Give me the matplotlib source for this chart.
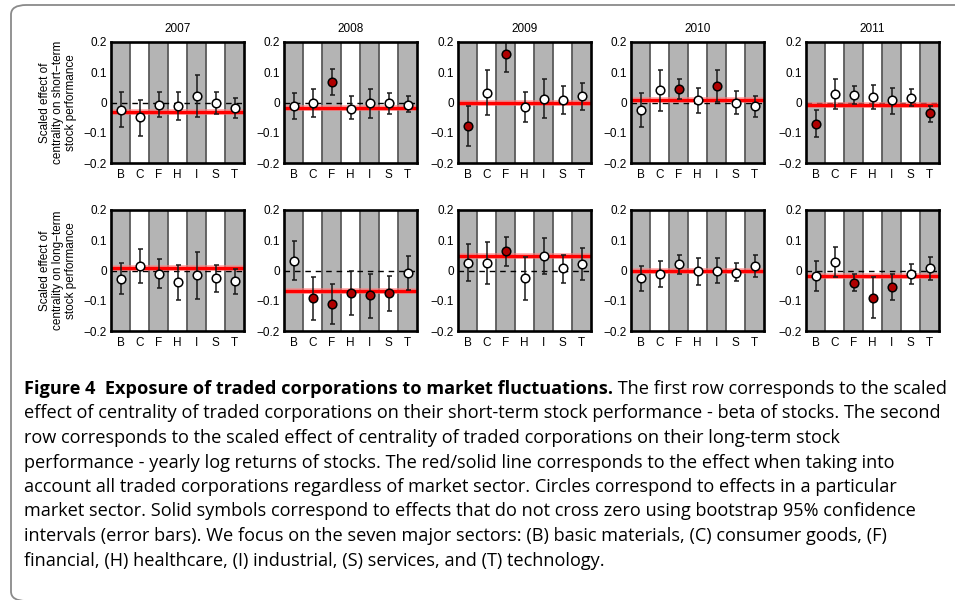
import matplotlib
matplotlib.use("Agg")
import matplotlib.pyplot as plt
import numpy as np
from matplotlib.patches import FancyBboxPatch
from matplotlib.transforms import IdentityTransform

years = ["2007", "2008", "2009", "2010", "2011"]
sectors = ["B", "C", "F", "H", "I", "S", "T"]

# first row: effect on short-term performance (beta)
short_est = [
    [-0.024, -0.049, -0.007, -0.013, 0.022, -0.003, -0.017],
    [-0.011, 0.000, 0.069, -0.020, -0.002, -0.002, -0.007],
    [-0.079, 0.032, 0.160, -0.015, 0.013, 0.009, 0.020],
    [-0.025, 0.041, 0.045, 0.007, 0.056, -0.003, -0.012],
    [-0.070, 0.028, 0.026, 0.018, 0.007, 0.016, -0.035],
]
short_lo = [
    [-0.081, -0.110, -0.049, -0.059, -0.049, -0.039, -0.051],
    [-0.055, -0.049, 0.025, -0.055, -0.050, -0.037, -0.033],
    [-0.145, -0.042, 0.100, -0.063, -0.052, -0.037, -0.024],
    [-0.081, -0.027, 0.012, -0.035, 0.002, -0.038, -0.048],
    [-0.114, -0.022, -0.004, -0.022, -0.037, -0.013, -0.065],
]
short_hi = [
    [0.035, 0.007, 0.035, 0.035, 0.092, 0.035, 0.016],
    [0.031, 0.046, 0.110, 0.020, 0.045, 0.031, 0.020],
    [-0.013, 0.106, 0.200, 0.034, 0.078, 0.053, 0.064],
    [0.030, 0.109, 0.078, 0.048, 0.109, 0.037, 0.023],
    [-0.024, 0.078, 0.053, 0.058, 0.048, 0.045, -0.013],
]
short_all = [-0.030, -0.019, -0.001, 0.009, -0.007]

# second row: effect on long-term performance (yearly log returns)
long_est = [
    [-0.027, 0.014, -0.010, -0.038, -0.016, -0.026, -0.034],
    [0.033, -0.092, -0.111, -0.073, -0.082, -0.074, -0.009],
    [0.026, 0.024, 0.065, -0.026, 0.048, 0.008, 0.022],
    [-0.026, -0.012, 0.021, -0.003, -0.001, -0.008, 0.016],
    [-0.019, 0.027, -0.042, -0.090, -0.054, -0.012, 0.008],
]
long_lo = [
    [-0.079, -0.041, -0.057, -0.097, -0.093, -0.070, -0.077],
    [-0.033, -0.164, -0.178, -0.148, -0.156, -0.134, -0.066],
    [-0.036, -0.046, 0.016, -0.096, -0.012, -0.040, -0.030],
    [-0.069, -0.056, -0.010, -0.047, -0.040, -0.036, -0.020],
    [-0.069, -0.021, -0.069, -0.158, -0.098, -0.045, -0.030],
]
long_hi = [
    [0.025, 0.071, 0.038, 0.018, 0.060, 0.018, 0.005],
    [0.096, -0.020, -0.044, -0.002, -0.011, -0.019, 0.047],
    [0.089, 0.094, 0.112, 0.043, 0.109, 0.052, 0.073],
    [0.016, 0.032, 0.052, 0.041, 0.041, 0.024, 0.052],
    [0.032, 0.078, -0.012, -0.021, -0.012, 0.023, 0.043],
]
long_all = [0.008, -0.068, 0.048, -0.001, -0.019]

row_labels = [
    "Scaled effect of\ncentrality on short\u2212term\nstock performance",
    "Scaled effect of\ncentrality on long\u2212term\nstock performance",
]

caption_bold = "Figure 4  Exposure of traded corporations to market fluctuations."
caption_lines = [
    " The first row corresponds to the scaled",
    "effect of centrality of traded corporations on their short-term stock performance - beta of stocks. The second",
    "row corresponds to the scaled effect of centrality of traded corporations on their long-term stock",
    "performance - yearly log returns of stocks. The red/solid line corresponds to the effect when taking into",
    "account all traded corporations regardless of market sector. Circles correspond to effects in a particular",
    "market sector. Solid symbols correspond to effects that do not cross zero using bootstrap 95% confidence",
    "intervals (error bars). We focus on the seven major sectors: (B) basic materials, (C) consumer goods, (F)",
    "financial, (H) healthcare, (I) industrial, (S) services, and (T) technology.",
]

plt.rcParams['font.family'] = ['Liberation Sans', 'DejaVu Sans']
W, H = 955, 600
fig = plt.figure(figsize=(W / 100, H / 100), dpi=100)

lefts = [111, 284, 458, 631, 806]
tops = [42, 210]
aw, ah = 133, 121
x = np.arange(1, len(sectors) + 1)

rows = [(short_est, short_lo, short_hi, short_all),
        (long_est, long_lo, long_hi, long_all)]

for r, (est_all, lo_all, hi_all, line_all) in enumerate(rows):
    for c, yr in enumerate(years):
        ax = fig.add_axes([lefts[c] / W, 1 - (tops[r] + ah) / H, aw / W, ah / H])
        est = np.array(est_all[c])
        lo = np.array(lo_all[c])
        hi = np.array(hi_all[c])
        # alternating sector stripes
        for i in x:
            if i % 2 == 1:
                ax.axvspan(i - 0.5, i + 0.5, color='#b4b4b4', lw=0, zorder=0)
        for i in x[:-1]:
            ax.axvline(i + 0.5, color='#5a5a5a', lw=1.3, zorder=1)
        ax.axhline(0, color='k', lw=1, dashes=(4, 3.5), zorder=2)
        ax.axhline(line_all[c], color='#ff8080', lw=4.2, alpha=0.6, zorder=3)
        ax.axhline(line_all[c], color='#ff0000', lw=2.4, zorder=3)
        ax.errorbar(x, est, yerr=[est - lo, hi - est], fmt='none',
                    ecolor='#1a1a1a', elinewidth=1.1, capsize=1.8, capthick=1.1,
                    zorder=4)
        sig = (lo > 0) | (hi < 0)
        ax.plot(x[~sig], est[~sig], 'o', ms=6.2, mfc='white', mec='k', mew=1.1, zorder=5)
        ax.plot(x[sig], est[sig], 'o', ms=6.2, mfc='#b00000', mec='k', mew=1.1, zorder=5)
        ax.set_xlim(0.5, 7.5)
        ax.set_ylim(-0.2, 0.2)
        ax.set_xticks(x)
        ax.set_xticklabels(sectors)
        ax.set_yticks([-0.2, -0.1, 0, 0.1, 0.2])
        ax.set_yticklabels(["\u22120.2", "\u22120.1", "0", "0.1", "0.2"])
        ax.tick_params(length=0, labelsize=8.5, pad=3)
        ax.tick_params(axis='x', pad=4)
        for s in ax.spines.values():
            s.set_linewidth(1.9)
            s.set_zorder(6)
        if r == 0:
            ax.set_title(yr, fontsize=8.5, pad=7)
        if c == 0:
            fig.text(58 / W, 1 - (tops[r] + ah / 2) / H, row_labels[r], rotation=90,
                     ha='center', va='center', fontsize=8.5, linespacing=1.15)

# caption box with rounded corners (right side runs off the page)
box = FancyBboxPatch((11 / W, 1 - 601 / H), 1000 / W, 596 / H,
                     boxstyle="round,pad=0,rounding_size=0.016",
                     transform=fig.transFigure, fill=False, ec='#8a8a8a', lw=1.3)
fig.patches.append(box)

cap_font = ['Open Sans', 'DejaVu Sans']
x0 = 24
y0 = 389
step = 24.5
renderer = fig.canvas.get_renderer()

# size the caption so that the first line fills the width like in the original
pb = fig.text(0, 0, caption_bold, fontsize=10, family=cap_font, weight='bold',
              transform=IdentityTransform())
pr = fig.text(0, 0, caption_lines[0], fontsize=10, family=cap_font,
              transform=IdentityTransform())
wsum = pb.get_window_extent(renderer).width + pr.get_window_extent(renderer).width
pb.remove()
pr.remove()
fs = 10 * 926 / wsum

tb = fig.text(x0, H - y0, caption_bold, fontsize=fs, family=cap_font, weight='bold',
              va='center', ha='left', transform=IdentityTransform())
bx = tb.get_window_extent(renderer).x1
fig.text(bx, H - y0, caption_lines[0], fontsize=fs, family=cap_font,
         va='center', ha='left', transform=IdentityTransform())
for i, line in enumerate(caption_lines[1:], start=1):
    fig.text(x0, H - (y0 + step * i), line, fontsize=fs, family=cap_font,
             va='center', ha='left', transform=IdentityTransform())

fig.savefig("out.png", dpi=100)
